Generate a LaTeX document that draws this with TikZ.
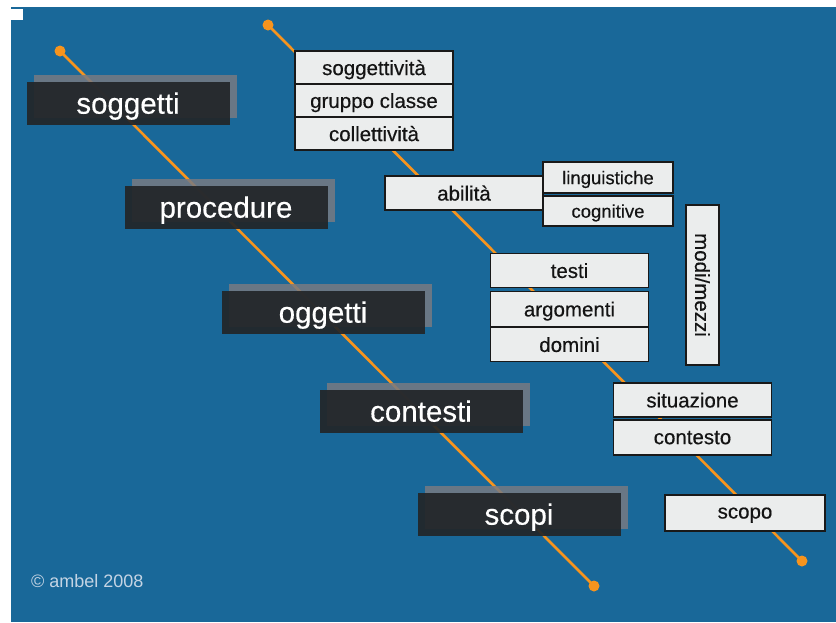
\documentclass[tikz,border=0pt]{standalone}
\usepackage{xcolor}
\definecolor{sfondo}{RGB}{25,104,153}
\definecolor{arancio}{RGB}{247,148,29}
\definecolor{scuro}{RGB}{34,37,40}
\definecolor{ombra}{RGB}{120,122,130}
\definecolor{chiaro}{RGB}{235,237,237}
\definecolor{firma}{RGB}{196,212,228}
\usepackage{fontspec}
\setmainfont{Liberation Sans}
\newfontfamily\grassetto[FakeBold=0.4]{Liberation Sans}
\usetikzlibrary{positioning,shadows}

\begin{document}
\begin{tikzpicture}[x=1pt,y=-1pt,
  voce/.style={fill=scuro,fill opacity=0.92,text opacity=1,text=white,
    minimum width=203pt,minimum height=43pt,inner sep=0pt,
    text depth=0pt,font=\grassetto\fontsize{29.5}{31}\selectfont,
    general shadow={fill=ombra,fill opacity=0.85,
      shadow xshift=7pt,shadow yshift=7pt}},
  casella/.style={draw=black!90,line width=1.1pt,fill=chiaro,text=black!92,
    minimum width=158pt,minimum height=33pt,inner sep=0pt,outer sep=0pt,
    text depth=0pt,font=\grassetto\fontsize{20.5}{22}\selectfont},
  piccola/.style={casella,minimum width=130pt,
    font=\grassetto\fontsize{18.5}{20}\selectfont},
  filo/.style={arancio,line width=2.6pt}]
\useasboundingbox (0,0) rectangle (836,622);
\fill[sfondo] (11,7) rectangle (836,622);
\fill[white] (11,9) rectangle (23,20);

% assi
\coordinate (a1) at (60,51);
\coordinate (a2) at (594,586);
\coordinate (b1) at (268,25);
\coordinate (b2) at (802,561);
\draw[filo] (a1) -- (a2);
\draw[filo] (b1) -- (b2);
\foreach \p in {a1,a2,b1,b2}
  \fill[arancio] (\p) circle (5.5pt);

% voci principali
\node[voce] (sog) at (128,103) {soggetti};
\node[voce] (pro) at (226,207) {procedure};
\node[voce] (ogg) at (323,312) {oggetti};
\node[voce] (con) at (421,411) {contesti};
\node[voce] (sco) at (519,514) {scopi};

% dettagli
\node[casella] (sgv) at (374,67.5) {soggettività};
\node[casella,below=0pt of sgv] (grp) {gruppo classe};
\node[casella,below=0pt of grp] (col) {collettività};

\node[casella,minimum height=34pt] (abi) at (464,193) {abilità};
\node[piccola,minimum height=31pt] (lin) at (608,177.5) {linguistiche};
\node[piccola,minimum height=30pt,below=3pt of lin] (cog) {cognitive};

\node[casella,minimum height=34pt] (tes) at (569.5,270.5) {testi};
\node[casella,minimum height=35pt,below=4pt of tes] (arg) {argomenti};
\node[casella,minimum height=34pt,below=1pt of arg] (dom) {domini};

\node[casella,minimum width=160pt,rotate=-90] (mod) at (702.5,285) {modi/mezzi};

\node[casella,minimum height=34pt] (sit) at (692.5,400) {situazione};
\node[casella,minimum height=35pt,below=3pt of sit] (cto) {contesto};

\node[casella,minimum width=160pt,minimum height=36pt] (spo) at (745,513) {scopo};

\node[anchor=west,text=firma,inner sep=0pt,
  font=\fontsize{18}{20}\selectfont] (amb) at (31,581) {© ambel 2008};
\end{tikzpicture}
\end{document}
